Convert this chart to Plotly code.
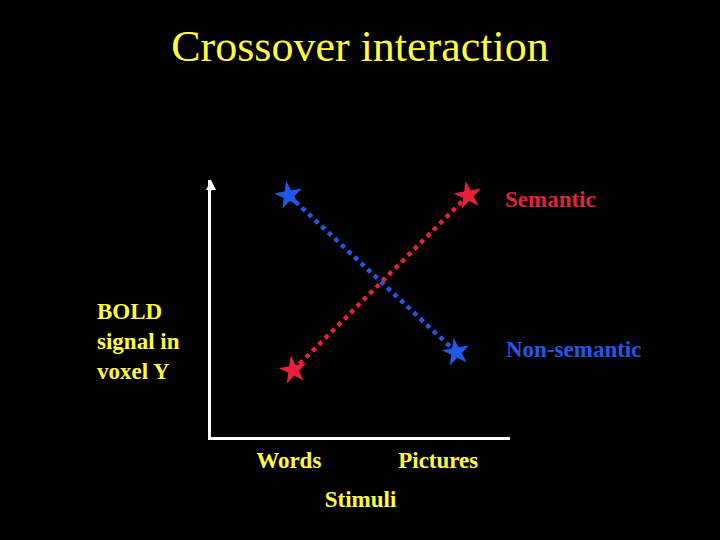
import plotly.graph_objects as go

# values (arbitrary units, axis runs 0..10)
stimuli = ["Words", "Pictures"]
stim_pos = [2.6, 7.6]

semantic_x = [2.75, 8.6]
semantic_y = [2.6, 9.4]

nonsem_x = [2.6, 8.2]
nonsem_y = [9.4, 3.3]

yellow = "#FFFF3C"
red = "#E8203A"
blue = "#2058E8"
serif = "Liberation Serif, Times New Roman, serif"

fig = go.Figure()

fig.add_trace(go.Scatter(
    x=semantic_x, y=semantic_y, mode="lines+markers", name="Semantic",
    line=dict(color=red, width=4.5, dash="dot"),
    marker=dict(symbol="star", size=21, color=red, angle=-10),
    cliponaxis=False))

fig.add_trace(go.Scatter(
    x=nonsem_x, y=nonsem_y, mode="lines+markers", name="Non-semantic",
    line=dict(color=blue, width=4.5, dash="dot"),
    marker=dict(symbol="star", size=21, color=blue, angle=-10),
    cliponaxis=False))

fig.update_layout(
    width=720, height=540,
    paper_bgcolor="black", plot_bgcolor="black",
    margin=dict(l=211, r=210, t=180, b=103),
    showlegend=False,
    title=dict(text="Crossover interaction", x=0.5, xanchor="center",
               y=1 - 46 / 540, yanchor="middle",
               font=dict(family=serif, size=44, color=yellow)),
)

fig.update_xaxes(range=[0, 10], showgrid=False, zeroline=False,
                 showline=True, linecolor="white", linewidth=3,
                 tickvals=stim_pos, ticktext=["<b>" + s + "</b>" for s in stimuli],
                 ticks="",
                 tickfont=dict(family=serif, size=23, color=yellow, weight="bold"),
                 title=dict(text="<b>Stimuli</b>", standoff=20,
                            font=dict(family=serif, size=23, color=yellow)))
fig.update_yaxes(range=[0, 10], showgrid=False, zeroline=False,
                 showline=True, linecolor="white", linewidth=3,
                 showticklabels=False, ticks="")

# arrow head on the y axis
fig.add_annotation(x=0, y=10, xref="x", yref="y", ax=0, ay=12,
                   showarrow=True, arrowhead=2, arrowsize=1, arrowwidth=2,
                   arrowcolor="white", text="")

fig.add_annotation(x=-0.388, y=0.3735, xref="paper", yref="paper",
                   xanchor="left", yanchor="middle", align="left", showarrow=False,
                   text="<b>BOLD<br>signal in<br>voxel Y</b>",
                   font=dict(family=serif, size=23, color=yellow))
fig.add_annotation(x=0.976, y=0.926, xref="paper", yref="paper",
                   xanchor="left", yanchor="middle", showarrow=False,
                   text="<b>Semantic</b>", font=dict(family=serif, size=23, color=red))
fig.add_annotation(x=0.98, y=0.342, xref="paper", yref="paper",
                   xanchor="left", yanchor="middle", showarrow=False,
                   text="<b>Non-semantic</b>", font=dict(family=serif, size=23, color=blue))

fig.write_html("out.html", config={"displayModeBar": False},
               post_script="document.body.style.margin='0';document.body.style.background='black';")
